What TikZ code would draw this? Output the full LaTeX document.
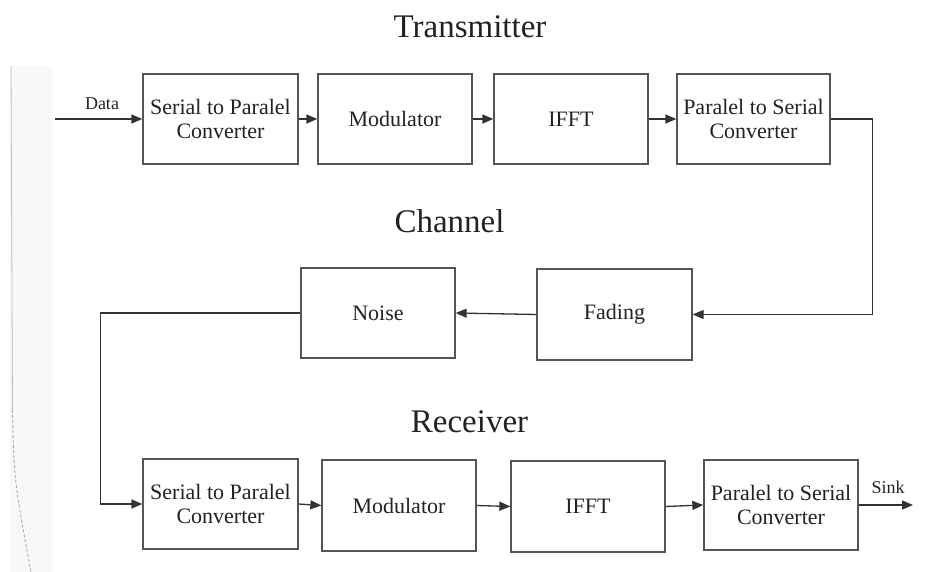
\documentclass[tikz,border=0pt]{standalone}
\usepackage{fontspec}
\setmainfont{Liberation Serif}
\usetikzlibrary{arrows.meta}
\definecolor{boxline}{HTML}{555555}
\definecolor{arrline}{HTML}{333333}
\definecolor{txt}{HTML}{222222}
\definecolor{panel}{HTML}{F8F8F8}
\tikzset{
  blk/.style={draw=boxline, line width=1.3pt, fill=white, inner sep=0pt,
    align=center, text=txt, font=\fontsize{22}{24}\selectfont},
  arr/.style={draw=arrline, line width=1.3pt, -{Triangle[length=11pt,width=9pt]}},
  ttl/.style={anchor=base, text=txt, font=\fontsize{33}{36}\selectfont},
  lbl/.style={anchor=base, text=txt, font=\fontsize{18}{20}\selectfont}
}
\begin{document}
\begin{tikzpicture}[x=1pt,y=-1pt]
\useasboundingbox (0,0) rectangle (930,572);
% left page artifact
\fill[panel] (10,66) rectangle (52,572);
\draw[gray!50, line width=0.8pt] (11,66) -- (12.5,410);
\draw[gray!70, line width=0.8pt, dash pattern=on 3pt off 2pt] (12.5,410) .. controls (14,480) .. (31,572);
% titles
\node[ttl] (tT) at (470,38) {Transmitter};
\node[ttl] (tC) at (449.5,233) {Channel};
\node[ttl] (tR) at (469.5,432) {Receiver};
% transmitter
\node[blk, minimum width=155pt, minimum height=90pt] (ts) at (220.5,119) {Serial to Paralel\\Converter};
\node[blk, minimum width=154pt, minimum height=90pt] (tm) at (395,119) {Modulator};
\node[blk, minimum width=154pt, minimum height=90pt] (ti) at (571,119) {IFFT};
\node[blk, minimum width=153pt, minimum height=90pt] (tp) at (753.5,119) {Paralel to Serial\\Converter};
% channel
\node[blk, minimum width=155pt, minimum height=91pt] (fa) at (614.5,314.5) {Fading};
\node[blk, minimum width=154pt, minimum height=90pt] (no) at (378,313) {Noise};
% receiver
\node[blk, minimum width=155pt, minimum height=90pt] (rs) at (220.5,504) {Serial to Paralel\\Converter};
\node[blk, minimum width=154pt, minimum height=91pt] (rm) at (399,505.5) {Modulator};
\node[blk, minimum width=154pt, minimum height=91pt] (ri) at (588,506.5) {IFFT};
\node[blk, minimum width=154pt, minimum height=90pt] (rp) at (781,505) {Paralel to Serial\\Converter};
% input / output
\coordinate (din) at (55,119);
\coordinate (sout) at (913,505);
\node[lbl] (ldata) at (102,110) {Data};
\node[lbl] (lsink) at (888,493) {Sink};
% connectors
\draw[arr] (din) -- (ts.west);
\draw[arr] (ts.east) -- (tm.west);
\draw[arr] (tm.east) -- (ti.west);
\draw[arr] (ti.east) -- (tp.west);
\draw[arr] (tp.east) -- ++(42,0) |- (fa.east);
\draw[arr] (fa.west) -- (no.east);
\draw[arr] (no.west) -- ++(-200,0) |- (rs.west);
\draw[arr] (rs.east) -- (rm.west);
\draw[arr] (rm.east) -- (ri.west);
\draw[arr] (ri.east) -- (rp.west);
\draw[arr] (rp.east) -- (sout);
\end{tikzpicture}
\end{document}
